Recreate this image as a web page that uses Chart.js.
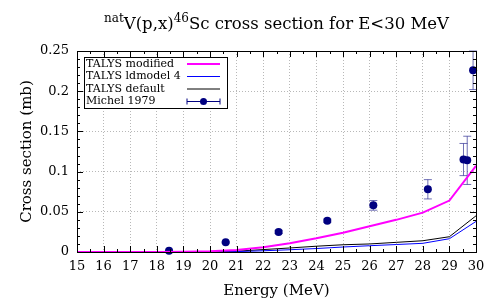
<!DOCTYPE html>
<html>
<head>
<meta charset="utf-8">
<script src="https://cdn.jsdelivr.net/npm/chart.js@4.4.1/dist/chart.umd.min.js"></script>
<style>
html, body { margin: 0; padding: 0; background: #fff; }
</style>
</head>
<body>
<canvas id="xsChart" width="500" height="300"></canvas>
<script>
// TALYS curves, energies in MeV, cross sections in mb
const energies = [15, 16, 17, 18, 19, 20, 21, 22, 23, 24, 25, 26, 27, 28, 29, 30];
const talysModified = [0, 0, 0, 0, 0.0003, 0.001, 0.0025, 0.006, 0.011, 0.017, 0.024, 0.032, 0.040, 0.049, 0.064, 0.107];
const talysLdmodel4 = [0, 0, 0, 0, 0, 0, 0.0005, 0.0015, 0.0028, 0.0043, 0.0062, 0.0078, 0.0093, 0.0108, 0.0165, 0.038];
const talysDefault = [0, 0, 0, 0, 0, 0, 0.001, 0.003, 0.005, 0.0072, 0.009, 0.010, 0.012, 0.014, 0.019, 0.045];

// Michel 1979 measurements
const michelE = [18.46, 20.59, 22.58, 24.41, 26.14, 28.19, 29.53, 29.67, 29.89];
const michelXs = [0.0016, 0.012, 0.025, 0.039, 0.058, 0.078, 0.115, 0.114, 0.226];
const michelErr = [0.0005, 0.001, 0.002, 0.002, 0.006, 0.012, 0.02, 0.03, 0.024];

const xTicks = [15, 16, 17, 18, 19, 20, 21, 22, 23, 24, 25, 26, 27, 28, 29, 30];
const yTicks = [0, 0.05, 0.1, 0.15, 0.2, 0.25];

const serif = "'DejaVu Serif', serif";
Chart.defaults.font.family = serif;
Chart.defaults.color = '#000';

function curve(ys) {
  return energies.map((e, i) => ({ x: e, y: ys[i] }));
}

// error bars, drawn just before the Michel points
const errorBars = {
  id: 'errorBars',
  beforeDatasetDraw(chart, args) {
    if (args.index !== 3) return;
    const ctx = chart.ctx;
    const xs = chart.scales.x, ys = chart.scales.y;
    ctx.save();
    ctx.strokeStyle = 'rgba(50,50,150,0.7)';
    ctx.lineWidth = 1;
    for (let i = 0; i < michelE.length; i++) {
      const px = xs.getPixelForValue(michelE[i]);
      const lo = ys.getPixelForValue(michelXs[i] - michelErr[i]);
      const hi = ys.getPixelForValue(michelXs[i] + michelErr[i]);
      ctx.beginPath();
      ctx.moveTo(px, lo); ctx.lineTo(px, hi);
      ctx.moveTo(px - 4, lo); ctx.lineTo(px + 4, lo);
      ctx.moveTo(px - 4, hi); ctx.lineTo(px + 4, hi);
      ctx.stroke();
    }
    ctx.restore();
  }
};

// frame, inward ticks, legend box and title (gnuplot look)
const gnuplotStyle = {
  id: 'gnuplotStyle',
  afterDraw(chart) {
    const ctx = chart.ctx;
    const a = chart.chartArea;
    const xs = chart.scales.x, ys = chart.scales.y;
    ctx.save();
    ctx.strokeStyle = '#000';
    ctx.lineWidth = 1;
    ctx.strokeRect(Math.round(a.left) + 0.5, Math.round(a.top) + 0.5, Math.round(a.right - a.left), Math.round(a.bottom - a.top));

    ctx.beginPath();
    for (let v = 15; v <= 30; v += 0.5) {
      const px = Math.round(xs.getPixelForValue(v)) + 0.5;
      const len = Number.isInteger(v) ? 6 : 3;
      ctx.moveTo(px, a.bottom); ctx.lineTo(px, a.bottom - len);
      ctx.moveTo(px, a.top); ctx.lineTo(px, a.top + len);
    }
    for (let v = 0; v <= 0.25 + 1e-9; v += 0.01) {
      const py = Math.round(ys.getPixelForValue(v)) + 0.5;
      const major = Math.abs(v / 0.05 - Math.round(v / 0.05)) < 1e-6;
      const len = major ? 6 : 3;
      ctx.moveTo(a.left, py); ctx.lineTo(a.left + len, py);
      ctx.moveTo(a.right, py); ctx.lineTo(a.right - len, py);
    }
    ctx.stroke();

    // legend
    const bx = a.left + 7, by = a.top + 6, bw = 143, bh = 51;
    ctx.fillStyle = '#fff';
    ctx.fillRect(bx, by, bw, bh);
    ctx.strokeRect(bx + 0.5, by + 0.5, bw, bh);
    const names = ['TALYS modified', 'TALYS ldmodel 4', 'TALYS default', 'Michel 1979'];
    const colors = ['#ff00ff', '#0000ff', '#000000', '#000080'];
    const widths = [2, 1, 1, 1];
    ctx.font = '11px ' + serif;
    ctx.textBaseline = 'middle';
    ctx.textAlign = 'left';
    for (let i = 0; i < 4; i++) {
      const ty = by + 7 + i * 12.5;
      ctx.fillStyle = '#000';
      ctx.fillText(names[i], bx + 2, ty);
      ctx.beginPath();
      ctx.strokeStyle = colors[i];
      ctx.lineWidth = widths[i];
      ctx.moveTo(bx + 103, ty); ctx.lineTo(bx + 136, ty);
      if (i === 3) {
        ctx.moveTo(bx + 103, ty - 3); ctx.lineTo(bx + 103, ty + 3);
        ctx.moveTo(bx + 136, ty - 3); ctx.lineTo(bx + 136, ty + 3);
      }
      ctx.stroke();
      if (i === 3) {
        ctx.beginPath();
        ctx.fillStyle = '#000080';
        ctx.arc(bx + 119.5, ty, 3.5, 0, Math.PI * 2);
        ctx.fill();
      }
    }

    // title with superscripts
    const parts = [['nat', true], ['V(p,x)', false], ['46', true], ['Sc cross section for E<30 MeV', false]];
    const big = '16.5px ' + serif, small = '12px ' + serif;
    let total = 0;
    parts.forEach(p => { ctx.font = p[1] ? small : big; total += ctx.measureText(p[0]).width; });
    let tx = (a.left + a.right) / 2 - total / 2;
    ctx.fillStyle = '#000';
    ctx.textBaseline = 'alphabetic';
    parts.forEach(p => {
      ctx.font = p[1] ? small : big;
      ctx.fillText(p[0], tx, p[1] ? 22 : 29);
      tx += ctx.measureText(p[0]).width;
    });
    ctx.restore();
  }
};

const config = {
  type: 'line',
  data: {
    datasets: [
      { label: 'TALYS modified', data: curve(talysModified), borderColor: '#ff00ff', borderWidth: 2, pointRadius: 0, tension: 0 },
      { label: 'TALYS ldmodel 4', data: curve(talysLdmodel4), borderColor: '#0000ff', borderWidth: 1, pointRadius: 0, tension: 0 },
      { label: 'TALYS default', data: curve(talysDefault), borderColor: '#000000', borderWidth: 1, pointRadius: 0, tension: 0 },
      {
        label: 'Michel 1979',
        data: michelE.map((e, i) => ({ x: e, y: michelXs[i] })),
        showLine: false,
        pointRadius: 4,
        pointBackgroundColor: '#000080',
        pointBorderColor: '#000080',
        pointBorderWidth: 0
      }
    ]
  },
  options: {
    responsive: false,
    animation: false,
    clip: false,
    layout: { padding: { top: 51, right: 24, left: 0, bottom: 0 } },
    plugins: {
      legend: { display: false },
      tooltip: { enabled: false },
      title: { display: false }
    },
    scales: {
      x: {
        type: 'linear',
        min: 15,
        max: 30,
        afterBuildTicks: scale => { scale.ticks = xTicks.map(v => ({ value: v })); },
        afterFit: scale => { scale.height = 48; },
        ticks: { font: { size: 13 }, padding: 7, maxRotation: 0 },
        grid: { color: '#b8b8b8', drawTicks: false },
        border: { display: false, dash: [1, 2] },
        title: { display: true, text: 'Energy (MeV)', font: { size: 15 }, padding: { top: 4, bottom: 0 } }
      },
      y: {
        min: 0,
        max: 0.25,
        afterBuildTicks: scale => { scale.ticks = yTicks.map(v => ({ value: v })); },
        afterFit: scale => { scale.width = 77; },
        ticks: { font: { size: 13 }, padding: 8, callback: v => String(Math.round(v * 100) / 100) },
        grid: { color: '#b8b8b8', drawTicks: false },
        border: { display: false, dash: [1, 2] },
        title: { display: true, text: 'Cross section (mb)', font: { size: 15 }, padding: { top: 18, bottom: 0 } }
      }
    }
  },
  plugins: [errorBars, gnuplotStyle]
};

const myChart = new Chart(document.getElementById('xsChart').getContext('2d'), config);
</script>
</body>
</html>
